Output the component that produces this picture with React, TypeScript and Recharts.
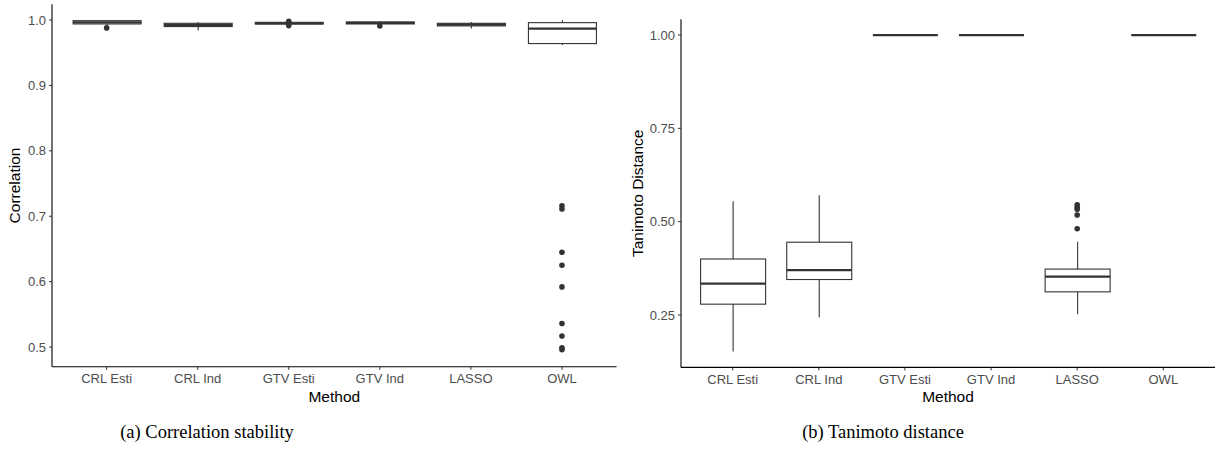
import React from "react";
import { ComposedChart, Bar, Scatter, XAxis, YAxis, Label } from "recharts";

const methods = ["CRL Esti", "CRL Ind", "GTV Esti", "GTV Ind", "LASSO", "OWL"];

// (a) Correlation stability
const corrLow = [0.992, 0.984, 0.9935, 0.9935, 0.987, 0.962];
const corrQ1 = [0.994, 0.990, 0.994, 0.994, 0.991, 0.964];
const corrMed = [0.9965, 0.9925, 0.995, 0.9955, 0.993, 0.987];
const corrQ3 = [0.999, 0.995, 0.9965, 0.997, 0.995, 0.996];
const corrHigh = [0.9995, 0.997, 0.9968, 0.998, 0.997, 0.9995];
const corrOutliers: number[][] = [
  [0.988],
  [],
  [0.998, 0.9915],
  [0.991],
  [],
  [0.716, 0.711, 0.645, 0.625, 0.592, 0.536, 0.517, 0.499, 0.496],
];
const corrTicks = [0.5, 0.6, 0.7, 0.8, 0.9, 1.0];

// (b) Tanimoto distance
const taniLow = [0.152, 0.244, 1.0, 1.0, 0.252, 1.0];
const taniQ1 = [0.279, 0.345, 1.0, 1.0, 0.312, 1.0];
const taniMed = [0.334, 0.37, 1.0, 1.0, 0.353, 1.0];
const taniQ3 = [0.4, 0.445, 1.0, 1.0, 0.373, 1.0];
const taniHigh = [0.555, 0.571, 1.0, 1.0, 0.446, 1.0];
const taniOutliers: number[][] = [
  [],
  [],
  [],
  [],
  [0.545, 0.538, 0.533, 0.518, 0.481],
  [],
];
const taniTicks = [0.25, 0.5, 0.75, 1.0];

const xTicks = [0, 1, 2, 3, 4, 5];

function buildRows(low: number[], q1: number[], med: number[], q3: number[], high: number[]) {
  return methods.map((m, i) => ({
    x: i,
    name: m,
    whisker: [low[i], high[i]],
    box: [q1[i], q3[i]],
    q1: q1[i],
    med: med[i],
    q3: q3[i],
  }));
}
function buildPoints(outs: number[][]) {
  return outs.flatMap((arr, i) => arr.map((v) => ({ x: i, y: v })));
}

const INK = "#333333";
const FONT = "'Liberation Sans', Arial, Helvetica, sans-serif";

const WhiskerShape = (props: any) => {
  const { x, y, width, height } = props;
  const cx = x + width / 2;
  const top = Math.min(y, y + height);
  const bot = Math.max(y, y + height);
  return <line x1={cx} x2={cx} y1={top} y2={bot} stroke={INK} strokeWidth={1.1} />;
};

const BoxShape = (props: any) => {
  const { x, y, width, height } = props;
  const p = props.payload ?? props;
  const top = Math.min(y, y + height);
  const h = Math.abs(height);
  const my = p.q3 === p.q1 ? top : top + ((p.q3 - p.med) / (p.q3 - p.q1)) * h;
  return (
    <g>
      <rect x={x} y={top} width={width} height={h} fill="#ffffff" stroke={INK} strokeWidth={1.1} />
      <line x1={x} x2={x + width} y1={my} y2={my} stroke={INK} strokeWidth={2.3} />
    </g>
  );
};

const Dot = (props: any) => <circle cx={props.cx} cy={props.cy} r={2.8} fill={INK} />;

type PanelProps = {
  width: number;
  height: number;
  margin: { top: number; right: number; bottom: number; left: number };
  yWidth: number;
  yDomain: [number, number];
  yTicks: number[];
  yDigits: number;
  yTitle: string;
  yTitleOffset: number;
  barSize: number;
  rows: any[];
  points: any[];
};

function Panel(p: PanelProps) {
  const tickStyle = { fill: "#4d4d4d", fontSize: 13, fontFamily: FONT };
  return (
    <ComposedChart width={p.width} height={p.height} data={p.rows} margin={p.margin}>
      <XAxis xAxisId="w" type="number" dataKey="x" domain={[-0.6, 5.6]} ticks={xTicks} allowDataOverflow hide height={0} />
      <XAxis xAxisId="b" type="number" dataKey="x" domain={[-0.6, 5.6]} ticks={xTicks} allowDataOverflow hide height={0} />
      <XAxis
        xAxisId="main"
        type="number"
        dataKey="x"
        domain={[-0.6, 5.6]}
        ticks={xTicks}
        interval={0}
        allowDataOverflow
        tickFormatter={(v: number) => methods[v] ?? ""}
        axisLine={{ stroke: "#000", strokeWidth: 1.1 }}
        tickLine={{ stroke: INK, strokeWidth: 1 }}
        tickSize={3}
        tickMargin={4}
        tick={tickStyle}
        height={40}
      >
        <Label
          value="Method"
          position="insideBottom"
          offset={5}
          style={{ fill: "#000", fontSize: 15.5, fontFamily: FONT }}
        />
      </XAxis>
      <YAxis
        type="number"
        domain={p.yDomain}
        ticks={p.yTicks}
        allowDataOverflow
        width={p.yWidth}
        tickFormatter={(v: number) => v.toFixed(p.yDigits)}
        axisLine={{ stroke: "#000", strokeWidth: 1.1 }}
        tickLine={{ stroke: INK, strokeWidth: 1 }}
        tickSize={3}
        tickMargin={3}
        tick={tickStyle}
      >
        <Label
          value={p.yTitle}
          angle={-90}
          position="insideLeft"
          offset={p.yTitleOffset}
          style={{ fill: "#000", fontSize: 15.5, fontFamily: FONT, textAnchor: "middle" }}
        />
      </YAxis>
      <Bar
        xAxisId="w"
        dataKey="whisker"
        barSize={p.barSize}
        shape={WhiskerShape}
        isAnimationActive={false}
      />
      <Bar
        xAxisId="b"
        dataKey="box"
        barSize={p.barSize}
        shape={BoxShape}
        isAnimationActive={false}
      />
      <Scatter
        xAxisId="main"
        data={p.points}
        dataKey="y"
        shape={Dot}
        isAnimationActive={false}
      />
    </ComposedChart>
  );
}

const corrRows = buildRows(corrLow, corrQ1, corrMed, corrQ3, corrHigh);
const corrPoints = buildPoints(corrOutliers);
const taniRows = buildRows(taniLow, taniQ1, taniMed, taniQ3, taniHigh);
const taniPoints = buildPoints(taniOutliers);

export default function App() {
  const captionStyle: React.CSSProperties = {
    position: "absolute",
    top: 420,
    fontFamily: "'Liberation Serif', 'Times New Roman', serif",
    fontSize: 18.5,
    lineHeight: "24px",
    color: "#000",
    whiteSpace: "nowrap",
    transform: "translateX(-50%)",
  };
  return (
    <div style={{ position: "absolute", left: 0, top: 0, width: 1215, height: 449, background: "#fff", overflow: "hidden" }}>
      <div style={{ position: "absolute", left: 0, top: 0 }}>
        <Panel
          width={620}
          height={410}
          margin={{ top: 4.2, right: 3.4, bottom: 3.2, left: 0 }}
          yWidth={52}
          yDomain={[0.4698, 1.0242]}
          yTicks={corrTicks}
          yDigits={1}
          yTitle="Correlation"
          yTitleOffset={14}
          barSize={68}
          rows={corrRows}
          points={corrPoints}
        />
      </div>
      <div style={{ position: "absolute", left: 620, top: 0 }}>
        <Panel
          width={595}
          height={410}
          margin={{ top: 19.2, right: 0, bottom: 2.6, left: 0 }}
          yWidth={61}
          yDomain={[0.1096, 1.0424]}
          yTicks={taniTicks}
          yDigits={2}
          yTitle="Tanimoto Distance"
          yTitleOffset={18}
          barSize={65}
          rows={taniRows}
          points={taniPoints}
        />
      </div>
      <div style={{ ...captionStyle, left: 207 }}>(a) Correlation stability</div>
      <div style={{ ...captionStyle, left: 883 }}>(b) Tanimoto distance</div>
    </div>
  );
}
